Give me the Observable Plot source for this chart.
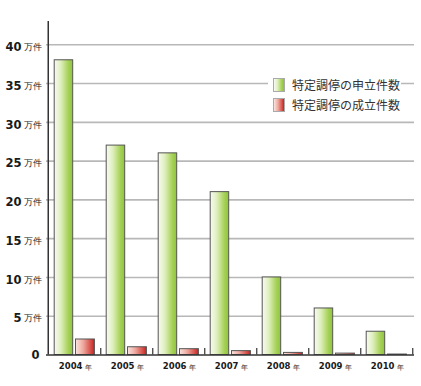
<!DOCTYPE html>
<html>
<head>
<meta charset="utf-8">
<script src="https://cdn.jsdelivr.net/npm/d3@7"></script>
<script src="https://cdn.jsdelivr.net/npm/@observablehq/plot@0.6"></script>
<style>
  html, body { margin: 0; padding: 0; background: #fff; }
  #wrap { position: relative; width: 421px; height: 386px; }
  #legend { position: absolute; left: 268px; top: 75px; width: 133px; background: #fff;
    font-family: "Noto Sans CJK JP", sans-serif; font-size: 12px; color: #333; }
  .row { height: 20px; line-height: 20px; display: flex; align-items: center; }
  .sw { width: 12px; height: 14px; margin-left: 5px; margin-right: 7px; box-sizing: border-box; border: 1px solid #aaa; }
</style>
</head>
<body>
<div id="wrap"></div>
<script>
const years = [2004, 2005, 2006, 2007, 2008, 2009, 2010];
const applications = [38, 27, 26, 21, 10, 6, 3];
const settlements = [2.0, 1.0, 0.75, 0.5, 0.27, 0.18, 0.06];
const yTicks = [0, 5, 10, 15, 20, 25, 30, 35, 40];
const yUnit = "万件";
const xUnit = "年";
const seriesNames = ["特定調停の申立件数", "特定調停の成立件数"];

const rows = years.map((y, i) => ({year: y, apply: applications[i], settle: settlements[i]}));

const chart = Plot.plot({
  width: 421,
  height: 386,
  marginLeft: 46,
  marginRight: 7,
  marginTop: 21,
  marginBottom: 31.5,
  style: {fontFamily: "DejaVu Sans, sans-serif", color: "#222", background: "#fff"},
  x: {type: "band", domain: years, padding: 0, axis: null},
  y: {domain: [0, 43], axis: null},
  marks: [
    Plot.ruleY(yTicks.filter(d => d > 0), {y: d => d, stroke: "#b8b8b8", strokeWidth: 1.6}),
    Plot.barY(rows, {x: "year", y: "apply", insetLeft: 6.2, insetRight: 27.3,
      fill: "url(#gGreen)", stroke: "#555", strokeWidth: 1}),
    Plot.barY(rows, {x: "year", y: "settle", insetLeft: 27.5, insetRight: 5.6,
      fill: "url(#gRed)", stroke: "#555", strokeWidth: 1}),
    Plot.ruleY([0], {stroke: "#333", strokeWidth: 1.5}),
    Plot.ruleX(years, {x: d => d, dx: 26.25, insetTop: 327, stroke: "#333", strokeWidth: 1.2}),
    Plot.ruleX(years.slice(0, 1), {x: d => d, dx: -26.25, stroke: "#333", strokeWidth: 1.5}),
    Plot.text(yTicks.filter(d => d > 0), {y: d => d, text: d => String(d), frameAnchor: "left",
      textAnchor: "end", dx: -25, dy: 2.5, fontSize: 11.5, fontWeight: "bold", fill: "#1a1a1a"}),
    Plot.text(yTicks.filter(d => d > 0), {y: d => d, text: () => yUnit, frameAnchor: "left",
      textAnchor: "start", dx: -23, dy: 2.5, fontSize: 8.5, fill: "#222"}),
    Plot.text(yTicks.filter(d => d === 0), {y: d => d, text: d => String(d), frameAnchor: "left",
      textAnchor: "end", dx: -7, dy: 0, fontSize: 11.5, fontWeight: "bold", fill: "#1a1a1a"}),
    Plot.text(years, {x: d => d, text: d => String(d), frameAnchor: "bottom",
      textAnchor: "end", dx: 8, dy: 14, fontSize: 8.5, fontWeight: "bold", fill: "#1a1a1a"}),
    Plot.text(years, {x: d => d, text: () => xUnit, frameAnchor: "bottom",
      textAnchor: "start", dx: 10, dy: 14.5, fontSize: 7, fill: "#222"})
  ]
});

const defs = d3.select(chart).insert("defs", ":first-child");
const g1 = defs.append("linearGradient").attr("id", "gGreen").attr("x1", 0).attr("x2", 1).attr("y1", 0).attr("y2", 0);
[[0, "#f8fbf0"], [0.35, "#e0efbf"], [0.75, "#a8d25a"], [1, "#8cc43a"]].forEach(([o, c]) =>
  g1.append("stop").attr("offset", o).attr("stop-color", c));
const g2 = defs.append("linearGradient").attr("id", "gRed").attr("x1", 0).attr("x2", 1).attr("y1", 0).attr("y2", 0);
[[0, "#fae4df"], [0.4, "#eeaaa0"], [0.8, "#d6504a"], [1, "#c4221f"]].forEach(([o, c]) =>
  g2.append("stop").attr("offset", o).attr("stop-color", c));

const wrap = document.getElementById("wrap");
wrap.appendChild(chart);

const legend = document.createElement("div");
legend.id = "legend";
const grads = ["linear-gradient(to right, #f8fbf0, #e0efbf 35%, #a8d25a 75%, #8cc43a)",
               "linear-gradient(to right, #fae4df, #eeaaa0 40%, #d6504a 80%, #c4221f)"];
seriesNames.forEach((name, i) => {
  const r = document.createElement("div");
  r.className = "row";
  const s = document.createElement("span");
  s.className = "sw";
  s.style.background = grads[i];
  const t = document.createElement("span");
  t.textContent = name;
  r.appendChild(s); r.appendChild(t);
  legend.appendChild(r);
});
wrap.appendChild(legend);
</script>
</body>
</html>
